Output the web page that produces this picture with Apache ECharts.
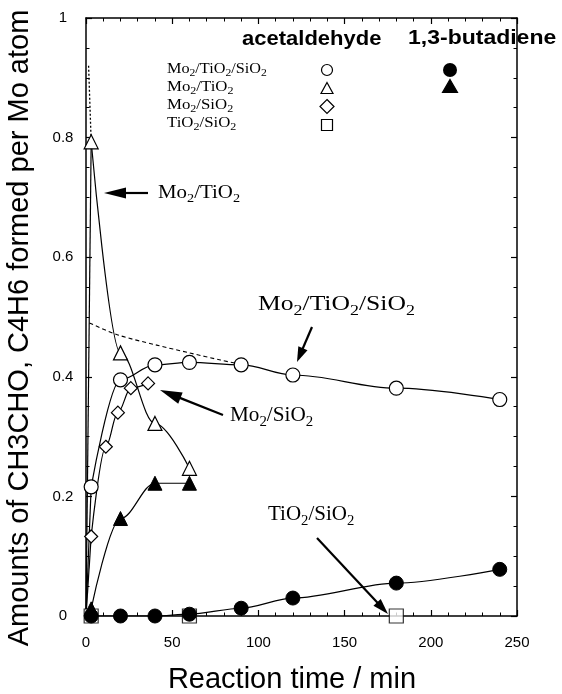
<!DOCTYPE html>
<html><head><meta charset="utf-8">
<script src="https://cdn.jsdelivr.net/npm/echarts@6/dist/echarts.min.js"></script>
<style>html,body{margin:0;padding:0;background:#fff;} #c{width:562px;height:694px;}</style>
</head><body><div id="c"></div>
<script>
// ---- data ----
const timeMoTiSi = [3, 20, 40, 60, 90, 120, 180, 240];
const acetMoTiSi = [0.216, 0.395, 0.42, 0.424, 0.42, 0.403, 0.381, 0.362];
const butaMoTiSi = [0, 0, 0, 0.003, 0.013, 0.03, 0.055, 0.078];
const timeMoTi = [3, 20, 40, 60];
const acetMoTi = [0.793, 0.44, 0.322, 0.247];
const butaMoTi = [0.012, 0.163, 0.222, 0.222];
const timeMoSi = [3, 11.5, 18.5, 26, 36];
const acetMoSi = [0.133, 0.283, 0.34, 0.381, 0.389];
const timeTiSi = [3, 60, 180];
const acetTiSi = [0, 0, 0];
const extrapTime = [2, 18.5, 41, 60, 78, 88];
const extrapVal = [0.49, 0.47, 0.453, 0.44, 0.428, 0.422];
const peakTime = [1.5, 3];
const peakVal = [0.92, 0.793];
const originPoint = [0, 0];
const xMin = 0, xMax = 250, xStep = 50;
const yMin = 0, yMax = 1, yStep = 0.2;
const catalysts = ['Mo{s|2}/TiO{s|2}/SiO{s|2}', 'Mo{s|2}/TiO{s|2}', 'Mo{s|2}/SiO{s|2}', 'TiO{s|2}/SiO{s|2}'];
const productHeaders = ['acetaldehyde', '1,3-butadiene'];

const pts = (xs, ys) => xs.map((x, i) => [x, ys[i]]);

const chart = echarts.init(document.getElementById('c'), null, {renderer: 'canvas'});

const axisLineStyle = {show: true, onZero: false, lineStyle: {color: '#000', width: 1.5}};
const tickStyle = {show: true, inside: true, length: 6, lineStyle: {color: '#000', width: 1.2}};
const minorX = {show: true, splitNumber: 5, length: 3.5, lineStyle: {color: '#000', width: 1}};
const minorY = {show: true, splitNumber: 4, length: 3.5, lineStyle: {color: '#000', width: 1}};

const lineBase = {
  type: 'line', xAxisIndex: 0, yAxisIndex: 0, showAllSymbol: true,
  lineStyle: {color: '#000', width: 1.2},
  itemStyle: {color: '#fff', borderColor: '#000', borderWidth: 1.2},
  emphasis: {disabled: true}, silent: true
};
const plainLine = (data, extra) => Object.assign({}, lineBase, {data, symbol: 'none'}, extra || {});

const series = [
  plainLine([originPoint, [timeMoTiSi[0], acetMoTiSi[0]]]),
  plainLine([originPoint, [timeMoTi[0], acetMoTi[0]]]),
  plainLine([originPoint, [timeMoSi[0], acetMoSi[0]]]),
  plainLine(pts(extrapTime, extrapVal), {lineStyle: {color: '#000', width: 1.1, type: [4, 3]}, smooth: 0.3}),
  plainLine(pts(peakTime, peakVal), {lineStyle: {color: '#000', width: 1.3, type: [2, 2]}}),
  Object.assign({}, lineBase, {name: 'Mo2/TiO2 acetaldehyde', data: pts(timeMoTi, acetMoTi), symbol: 'triangle', symbolSize: 14, smooth: 0.35, smoothMonotone: 'x'}),
  Object.assign({}, lineBase, {name: 'Mo2/SiO2 acetaldehyde', data: pts(timeMoSi, acetMoSi), symbol: 'diamond', symbolSize: 13, smooth: 0.35, smoothMonotone: 'x'}),
  Object.assign({}, lineBase, {name: 'Mo2/TiO2/SiO2 acetaldehyde', data: pts(timeMoTiSi, acetMoTiSi), symbol: 'circle', symbolSize: 14, smooth: 0.35, smoothMonotone: 'x'}),
  {type: 'scatter', name: 'TiO2/SiO2 acetaldehyde', data: pts(timeTiSi, acetTiSi), symbol: 'rect', symbolSize: 14, silent: true,
   itemStyle: {color: '#fff', borderColor: '#000', borderWidth: 1.2}, z: 3},
  Object.assign({}, lineBase, {name: 'Mo2/TiO2 1,3-butadiene', data: pts(timeMoTi, butaMoTi), symbol: 'triangle', symbolSize: 14, smooth: 0.35, smoothMonotone: 'x', itemStyle: {color: '#000', borderColor: '#000', borderWidth: 1}, z: 4}),
  Object.assign({}, lineBase, {name: 'Mo2/TiO2/SiO2 1,3-butadiene', data: pts(timeMoTiSi, butaMoTiSi), symbol: 'circle', symbolSize: 14, smooth: 0.3, smoothMonotone: 'x', itemStyle: {color: '#000', borderColor: '#000', borderWidth: 1}, z: 4})
];

// ---- annotation / legend graphics ----
const serif = 'Liberation Serif';
function chem(x, y, str, size, sx) {
  return {type: 'text', x, y, scaleX: sx, silent: true, z: 10,
    style: {text: str, x: 0, y: 0, fill: '#000', fontSize: size, fontFamily: serif, lineHeight: Math.round(size * 1.3),
      align: 'left', verticalAlign: 'middle',
      rich: {s: {fontSize: Math.round(size * 0.68), fontFamily: serif, lineHeight: Math.round(size * 0.5), verticalAlign: 'bottom', fill: '#000'}}}};
}
function arrow(x1, y1, x2, y2, headLen, headW) {
  const dx = x2 - x1, dy = y2 - y1, L = Math.hypot(dx, dy), ux = dx / L, uy = dy / L;
  const bx = x2 - ux * headLen, by = y2 - uy * headLen, px = -uy, py = ux;
  return [
    {type: 'line', silent: true, z: 10, shape: {x1, y1, x2: bx + ux * 2, y2: by + uy * 2}, style: {stroke: '#000', lineWidth: 2.2}},
    {type: 'polygon', silent: true, z: 10, shape: {points: [[x2, y2], [bx + px * headW, by + py * headW], [bx - px * headW, by - py * headW]]}, style: {fill: '#000'}}
  ];
}
function tri(cx, cy, w, h, filled) {
  return {type: 'polygon', silent: true, z: 10, shape: {points: [[cx, cy - h / 2], [cx + w / 2, cy + h / 2], [cx - w / 2, cy + h / 2]]},
    style: {fill: filled ? '#000' : '#fff', stroke: '#000', lineWidth: 1.2}};
}

const graphics = [
  {type: 'text', x: 20, y: 328, rotation: Math.PI / 2, silent: true,
   style: {text: 'Amounts of CH3CHO, C4H6 formed per Mo atom', fontSize: 29, fontFamily: 'Liberation Sans', fill: '#000', align: 'center', verticalAlign: 'middle'}},
  {type: 'text', x: 292, y: 680, silent: true,
   style: {text: 'Reaction time / min', fontSize: 29, fontFamily: 'Liberation Sans', fill: '#000', align: 'center', verticalAlign: 'middle'}},
  {type: 'text', x: 242, y: 39, scaleX: 1.1, silent: true,
   style: {text: productHeaders[0], x: 0, y: 0, fontSize: 20, fontWeight: 'bold', fontFamily: 'Liberation Sans', fill: '#000', align: 'left', verticalAlign: 'middle'}},
  {type: 'text', x: 408, y: 38, scaleX: 1.15, silent: true,
   style: {text: productHeaders[1], x: 0, y: 0, fontSize: 20, fontWeight: 'bold', fontFamily: 'Liberation Sans', fill: '#000', align: 'left', verticalAlign: 'middle'}},
  chem(167, 69, catalysts[0], 14, 1.16),
  chem(167, 87, catalysts[1], 14, 1.2),
  chem(167, 105, catalysts[2], 14, 1.2),
  chem(167, 123, catalysts[3], 14, 1.2),
  {type: 'circle', silent: true, z: 10, shape: {cx: 327, cy: 70, r: 5.5}, style: {fill: '#fff', stroke: '#000', lineWidth: 1.2}},
  tri(327, 88, 12, 11, false),
  {type: 'polygon', silent: true, z: 10, shape: {points: [[327, 99.5], [334, 106.5], [327, 113.5], [320, 106.5]]}, style: {fill: '#fff', stroke: '#000', lineWidth: 1.2}},
  {type: 'rect', silent: true, z: 10, shape: {x: 321.5, y: 119.5, width: 11, height: 11}, style: {fill: '#fff', stroke: '#000', lineWidth: 1.2}},
  {type: 'circle', silent: true, z: 10, shape: {cx: 450, cy: 70, r: 7}, style: {fill: '#000'}},
  tri(450, 86, 15, 13, true),
  chem(158, 193, catalysts[1], 19, 1.1),
  chem(258, 305, catalysts[0], 20, 1.28),
  chem(230, 416, catalysts[2], 20, 1.06),
  chem(268, 515, catalysts[3], 20, 1.05)
].concat(
  arrow(148, 193, 104, 193, 22, 5.5),
  arrow(312, 327, 297, 362, 15, 5),
  arrow(223, 415, 160, 390, 22, 6),
  arrow(317, 538, 388, 614, 16, 5)
);

chart.setOption({
  animation: false,
  backgroundColor: '#fff',
  grid: {left: 86, right: 45, top: 18, bottom: 78, containLabel: false, outerBoundsMode: 'none'},
  xAxis: [
    {type: 'value', min: xMin, max: xMax, interval: xStep, position: 'bottom', axisLine: axisLineStyle, axisTick: tickStyle, minorTick: minorX,
     splitLine: {show: false}, minorSplitLine: {show: false},
     axisLabel: {color: '#000', fontSize: 15, fontFamily: 'Liberation Sans', margin: 19}},
    {type: 'value', min: xMin, max: xMax, interval: xStep, position: 'top', axisLine: axisLineStyle, axisTick: tickStyle, minorTick: minorX,
     splitLine: {show: false}, minorSplitLine: {show: false}, axisLabel: {show: false}}
  ],
  yAxis: [
    {type: 'value', min: yMin, max: yMax, interval: yStep, position: 'left', axisLine: axisLineStyle, axisTick: tickStyle, minorTick: minorY,
     splitLine: {show: false}, minorSplitLine: {show: false},
     axisLabel: {color: '#000', fontSize: 15, fontFamily: 'Liberation Sans', margin: 23, align: 'center'}},
    {type: 'value', min: yMin, max: yMax, interval: yStep, position: 'right', axisLine: axisLineStyle, axisTick: tickStyle, minorTick: minorY,
     splitLine: {show: false}, minorSplitLine: {show: false}, axisLabel: {show: false}}
  ],
  series,
  graphic: graphics
});
</script>
</body></html>
